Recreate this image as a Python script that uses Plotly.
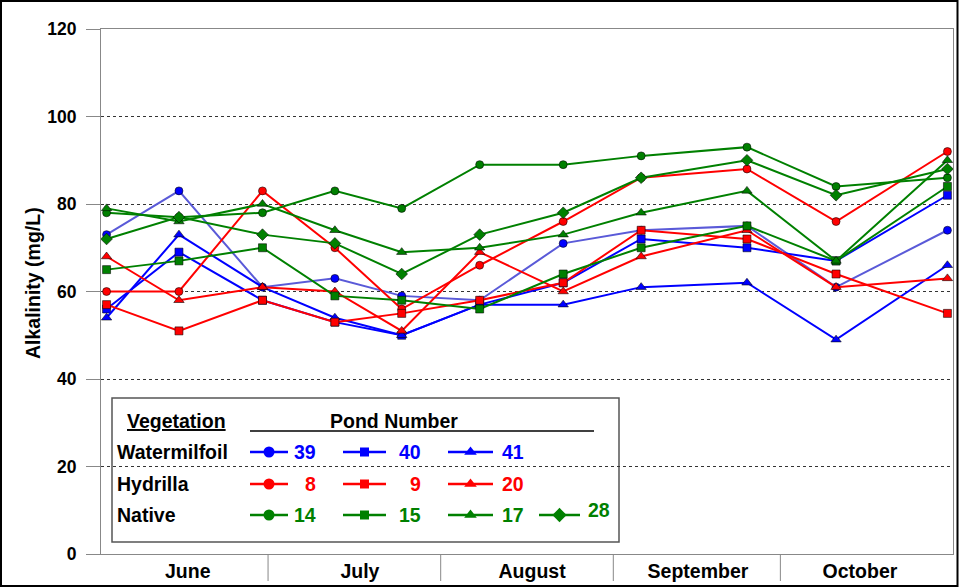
import plotly.graph_objects as go

# ---- data ----
dates = ["2006-06-02", "2006-06-15", "2006-06-30", "2006-07-13", "2006-07-25",
         "2006-08-08", "2006-08-23", "2006-09-06", "2006-09-25", "2006-10-11", "2006-10-31"]

pond39 = [73, 83, 61, 63, 59, 58, 71, 74, 75, 61, 74]
pond40 = [56, 69, 58, 53, 50, 57, 62, 72, 70, 67, 82]
pond41 = [54, 73, 61, 54, 50, 57, 57, 61, 62, 49, 66]
pond8 = [60, 60, 83, 70, 56, 66, 76, 86, 88, 76, 92]
pond9 = [57, 51, 58, 53, 55, 58, 62, 74, 72, 64, 55]
pond20 = [68, 58, 61, 60, 51, 69, 60, 68, 74, 61, 63]
pond14 = [78, 77, 78, 83, 79, 89, 89, 91, 93, 84, 86]
pond15 = [65, 67, 70, 59, 58, 56, 64, 70, 75, 67, 84]
pond17 = [79, 76, 80, 74, 69, 70, 73, 78, 83, 67, 90]
pond28 = [72, 77, 73, 71, 64, 73, 78, 86, 90, 82, 88]

vegetation = ["Watermilfoil", "Hydrilla", "Native"]
ponds_by_veg = [["39", "40", "41"], ["8", "9", "20"], ["14", "15", "17", "28"]]
month_names = ["June", "July", "August", "September", "October"]
month_label_pos = ["2006-06-16T14:00", "2006-07-17T12:00", "2006-08-17T10:00",
                   "2006-09-16T05:00", "2006-10-15T07:00"]
month_starts = ["2006-07-01", "2006-08-01", "2006-09-01", "2006-10-01"]

BLUE = "#0000FF"
RED = "#FF0000"
GREEN = "#008000"
PURPLE = "#5a5ad8"

FONT = "Liberation Sans, Arial, sans-serif"

series = [
    ("39", pond39, PURPLE, BLUE, "circle", 8),
    ("40", pond40, BLUE, BLUE, "square", 8),
    ("41", pond41, BLUE, BLUE, "triangle-up", 9),
    ("8", pond8, RED, RED, "circle", 8),
    ("9", pond9, RED, RED, "square", 8),
    ("20", pond20, RED, RED, "triangle-up", 9),
    ("14", pond14, GREEN, GREEN, "circle", 8),
    ("15", pond15, GREEN, GREEN, "square", 8),
    ("17", pond17, GREEN, GREEN, "triangle-up", 9),
    ("28", pond28, GREEN, GREEN, "diamond", 9),
]

L, R, T, B = 101, 953, 29, 554


def px(xp):
    return (xp - L) / (R - L)


def py(yp):
    return (B - yp) / (B - T)


fig = go.Figure()
for name, vals, lc, mc, sym, sz in series:
    fig.add_trace(go.Scatter(
        x=dates, y=vals, mode="lines+markers", name=name,
        line=dict(color=lc, width=2),
        marker=dict(symbol=sym, size=sz, color=mc, line=dict(color="rgba(0,0,0,0.55)", width=1)),
        showlegend=False, cliponaxis=False,
    ))

# ---- custom legend ----
row_y = [452, 484, 515]
group_x = [(250, 288, 318), (343, 386, 423), (448, 493, 526), (539, 580, 612)]
veg_colors = [BLUE, RED, GREEN]
symbols = ["circle", "square", "triangle-up", "diamond"]
annotations = []
shapes = []
shapes.append(dict(type="rect", xref="paper", yref="paper", x0=px(112), x1=px(619), y0=py(542), y1=py(398),
                   line=dict(color="#555555", width=1.5), fillcolor="white", layer="below"))
shapes.append(dict(type="line", xref="paper", yref="paper", x0=px(250), x1=px(594), y0=py(431), y1=py(431),
                   line=dict(color="black", width=1.5)))


def ann(x, y, text, size, color, xanchor="center", angle=0):
    annotations.append(dict(x=px(x), y=py(y), xref="paper", yref="paper", text=text,
                            xanchor=xanchor, yanchor="middle", showarrow=False, textangle=angle,
                            font=dict(family=FONT, size=size, color=color, weight="bold")))


ann(176, 421, "<u>Vegetation</u>", 19.5, "black")
ann(394, 421, "Pond Number", 19.5, "black")
for ri, (veg, ponds, col) in enumerate(zip(vegetation, ponds_by_veg, veg_colors)):
    yy = row_y[ri]
    ann(115, yy, veg, 19.5, "black", "left")
    for gi, p in enumerate(ponds):
        x0, x1, xr = group_x[gi]
        fig.add_trace(go.Scatter(
            x=[x0, x1], y=[yy, yy], xaxis="x2", yaxis="y2",
            mode="lines", line=dict(color=col, width=2.5), showlegend=False, hoverinfo="skip"))
        fig.add_trace(go.Scatter(
            x=[(x0 + x1) / 2], y=[yy], xaxis="x2", yaxis="y2", mode="markers",
            marker=dict(symbol=symbols[gi], size=11 if gi != 1 else 9, color=col),
            showlegend=False, hoverinfo="skip", cliponaxis=False))
        ann(xr, yy - (5 if p == "28" else 0), p, 19.5, col, "right")

# y-axis title
ann(33, 283, "Alkalinity (mg/L)", 19.5, "black", "center", -90)

# month separators below axis
for m in month_starts:
    shapes.append(dict(type="line", xref="x", yref="paper", x0=m, x1=m, y0=0, y1=py(581),
                       line=dict(color="#888888", width=1)))

# outer border
shapes.append(dict(type="rect", xref="paper", yref="paper",
                   x0=px(1), x1=px(957.5), y0=py(586), y1=py(1),
                   line=dict(color="black", width=2)))

fig.update_layout(
    width=959, height=587,
    margin=dict(l=L, r=959 - R, t=T, b=587 - B, autoexpand=False),
    paper_bgcolor="white", plot_bgcolor="white",
    font=dict(family=FONT, color="black"),
    xaxis=dict(type="date", range=["2006-06-01", "2006-11-01"],
               tickmode="array", tickvals=month_label_pos, ticktext=month_names,
               ticks="", showgrid=False, ticklabelstandoff=0,
               showline=True, linecolor="#888888", linewidth=1, mirror=True,
               tickfont=dict(family=FONT, size=19.5, weight="bold"), fixedrange=True),
    yaxis=dict(range=[0, 120], dtick=20, ticks="outside", ticklen=14, tickcolor="#888888",
               ticklabelstandoff=6,
               showline=True, linecolor="#888888", linewidth=1, mirror=True,
               showgrid=True, gridcolor="#333333", griddash="dot", gridwidth=1,
               zeroline=False,
               tickfont=dict(family=FONT, size=17.5, weight="bold"), fixedrange=True),
    xaxis2=dict(overlaying="x", range=[L, R], visible=False, fixedrange=True),
    yaxis2=dict(overlaying="y", range=[B, T], visible=False, fixedrange=True),
    shapes=shapes, annotations=annotations,
)

fig.write_html("out.html", config={"displayModeBar": False},
               post_script="document.body.style.margin='0';")
